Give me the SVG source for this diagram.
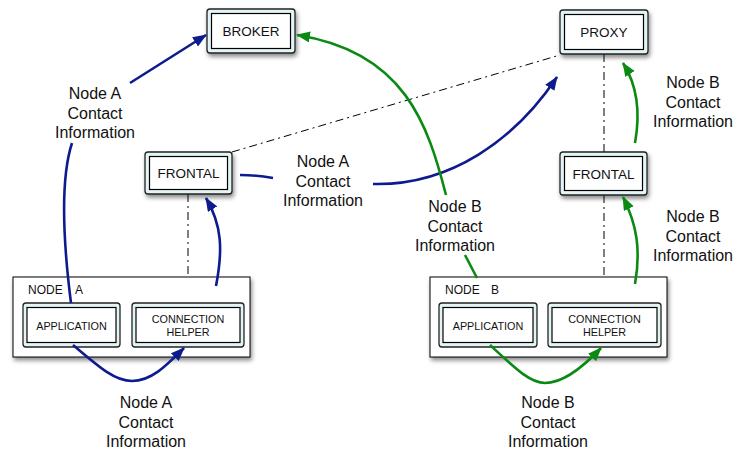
<svg xmlns="http://www.w3.org/2000/svg" width="735" height="452" viewBox="0 0 735 452">
<defs>
<filter id="sh" x="-20%" y="-20%" width="140%" height="160%">
<feDropShadow dx="1.5" dy="3" stdDeviation="2" flood-color="#000" flood-opacity="0.45"/>
</filter>
<marker id="ab" markerUnits="userSpaceOnUse" markerWidth="16" markerHeight="12" refX="13" refY="5.5" orient="auto">
<path d="M0,0 L14,5.5 L0,11 z" fill="#0d1b8e"/>
</marker>
<marker id="ag" markerUnits="userSpaceOnUse" markerWidth="16" markerHeight="12" refX="13" refY="5.5" orient="auto">
<path d="M0,0 L14,5.5 L0,11 z" fill="#0a8a12"/>
</marker>
</defs>
<style>
.o{fill:#e4f4f4;stroke:#222;stroke-width:1.3}
.i{fill:#fff;stroke:#000;stroke-width:1.2}
.c{fill:#fff;stroke:#000;stroke-width:1}
.t{font-family:"Liberation Sans",Arial,Helvetica,sans-serif;fill:#111;text-anchor:middle}
.bx{font-size:13.5px}
.sm{font-size:10.8px}
.nd{font-size:12px;text-anchor:start}
.lb{font-size:16px}
.dd{fill:none;stroke:#000;stroke-width:1;stroke-dasharray:8,4,2,4}
.b{fill:none;stroke:#0d1b8e;stroke-width:2.6}
.g{fill:none;stroke:#0a8a12;stroke-width:2.6}
</style>
<rect width="735" height="452" fill="#fff"/>

<g id="dashes">
<line class="dd" x1="188" y1="194" x2="188" y2="303"/>
<line class="dd" x1="232" y1="152" x2="560" y2="55"/>
<line class="dd" x1="604" y1="54" x2="604" y2="152"/>
<line class="dd" x1="604" y1="195" x2="604" y2="303"/>
</g>

<g id="node-a">
<rect class="c" x="13" y="277" width="237" height="80" filter="url(#sh)"/>
<text class="t nd" x="28" y="294">NODE</text>
<text class="t nd" x="75" y="294">A</text>
</g>
<g id="node-b">
<rect class="c" x="430" y="277" width="237" height="80" filter="url(#sh)"/>
<text class="t nd" x="445" y="294">NODE</text>
<text class="t nd" x="491" y="294">B</text>
</g>

<g id="broker">
<rect class="o" x="207" y="9" width="88" height="44" rx="3" filter="url(#sh)"/>
<rect class="i" x="211.5" y="13.5" width="79" height="35"/>
<text class="t bx" x="251" y="36">BROKER</text>
</g>
<g id="proxy">
<rect class="o" x="560" y="10" width="88" height="44" rx="3" filter="url(#sh)"/>
<rect class="i" x="564.5" y="14.5" width="79" height="35"/>
<text class="t bx" x="604" y="37">PROXY</text>
</g>
<g id="frontal-a">
<rect class="o" x="145" y="152" width="87" height="42" rx="3" filter="url(#sh)"/>
<rect class="i" x="149.5" y="156.5" width="78" height="33"/>
<text class="t bx" x="188.5" y="178">FRONTAL</text>
</g>
<g id="frontal-b">
<rect class="o" x="560" y="152" width="87" height="43" rx="3" filter="url(#sh)"/>
<rect class="i" x="564.5" y="156.5" width="78" height="34"/>
<text class="t bx" x="603.5" y="179">FRONTAL</text>
</g>
<g id="application-a">
<rect class="o" x="23" y="303" width="97" height="44" rx="3"/>
<rect class="i" x="27" y="307.5" width="89" height="35"/>
<text class="t sm" x="71.5" y="330">APPLICATION</text>
</g>
<g id="helper-a">
<rect class="o" x="132" y="303" width="112" height="44" rx="3"/>
<rect class="i" x="136" y="307.5" width="104" height="35"/>
<text class="t sm" x="188" y="323">CONNECTION</text>
<text class="t sm" x="188" y="336">HELPER</text>
</g>
<g id="application-b">
<rect class="o" x="439" y="303" width="98" height="44" rx="3"/>
<rect class="i" x="443" y="307.5" width="90" height="35"/>
<text class="t sm" x="488" y="330">APPLICATION</text>
</g>
<g id="helper-b">
<rect class="o" x="548" y="303" width="113" height="44" rx="3"/>
<rect class="i" x="552" y="307.5" width="105" height="35"/>
<text class="t sm" x="604.5" y="323">CONNECTION</text>
<text class="t sm" x="604.5" y="336">HELPER</text>
</g>

<g id="connectors">
<path class="b" d="M71,303 C63,240 60,180 72,143"/>
<path class="b" d="M130,83 L206,35" marker-end="url(#ab)"/>
<path class="b" d="M240,175 Q257,175 273,178"/>
<path class="b" d="M373,184 C450,186 515,140 557,77" marker-end="url(#ab)"/>
<path class="b" d="M216,286 C223,250 222,225 206,198" marker-end="url(#ab)"/>
<path class="b" d="M73,345 C100,368 115,381 132,381 C152,381 168,364 184,348" marker-end="url(#ab)"/>
<path class="g" d="M477,278 L465,255"/>
<path class="g" d="M446,195 C428,125 405,52 297,35" marker-end="url(#ag)"/>
<path class="g" d="M635,143 C641,110 637,85 623,63" marker-end="url(#ag)"/>
<path class="g" d="M635,284 C641,250 637,225 623,197" marker-end="url(#ag)"/>
<path class="g" d="M490,345 C515,368 530,383 545,383 C565,383 585,365 601,348" marker-end="url(#ag)"/>
</g>

<g id="labels">
<text class="t lb" x="95" y="99">Node A</text>
<text class="t lb" x="95" y="118.5">Contact</text>
<text class="t lb" x="95" y="138">Information</text>
<text class="t lb" x="323" y="167">Node A</text>
<text class="t lb" x="323" y="186.5">Contact</text>
<text class="t lb" x="323" y="206">Information</text>
<text class="t lb" x="455" y="212">Node B</text>
<text class="t lb" x="455" y="231.5">Contact</text>
<text class="t lb" x="455" y="251">Information</text>
<text class="t lb" x="693" y="88">Node B</text>
<text class="t lb" x="693" y="107.5">Contact</text>
<text class="t lb" x="693" y="127">Information</text>
<text class="t lb" x="693" y="222">Node B</text>
<text class="t lb" x="693" y="241.5">Contact</text>
<text class="t lb" x="693" y="261">Information</text>
<text class="t lb" x="146" y="408">Node A</text>
<text class="t lb" x="146" y="427.5">Contact</text>
<text class="t lb" x="146" y="447">Information</text>
<text class="t lb" x="548" y="408">Node B</text>
<text class="t lb" x="548" y="427.5">Contact</text>
<text class="t lb" x="548" y="447">Information</text>
</g>
</svg>
